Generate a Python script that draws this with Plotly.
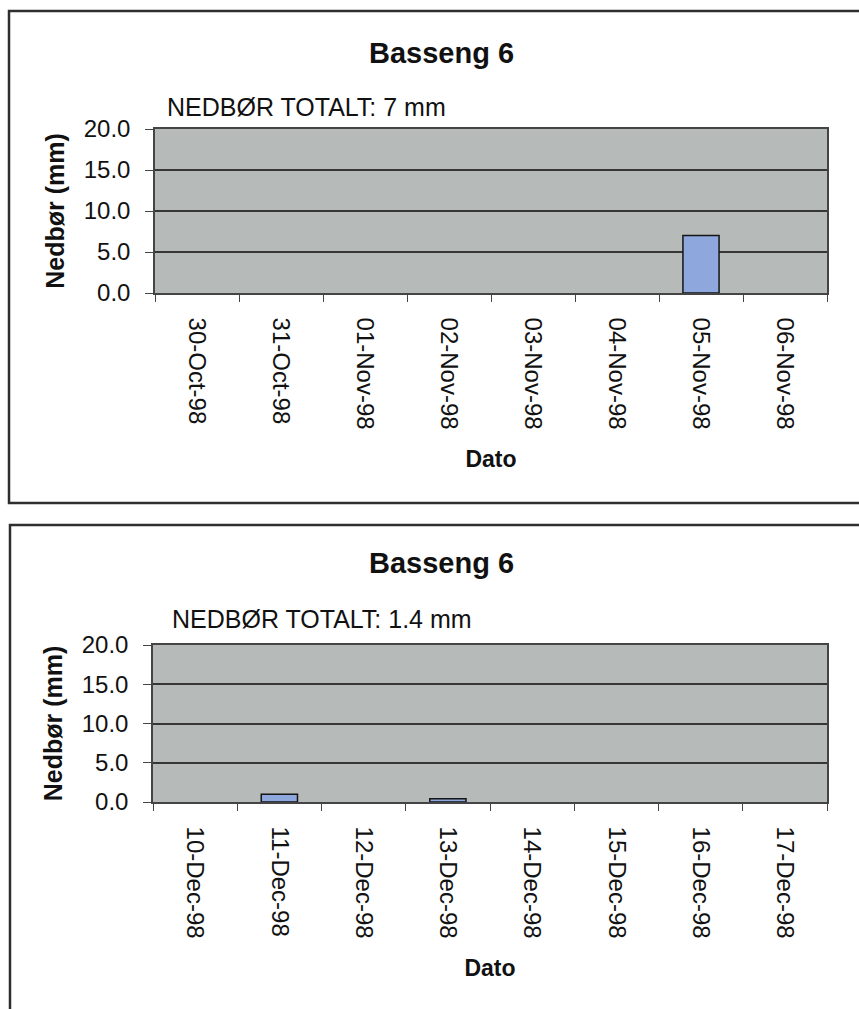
import plotly.graph_objects as go

# Daily precipitation, Basseng 6, two observation weeks in autumn 1998
dates_nov = ["30-Oct-98", "31-Oct-98", "01-Nov-98", "02-Nov-98",
             "03-Nov-98", "04-Nov-98", "05-Nov-98", "06-Nov-98"]
rain_nov = [0.0, 0.0, 0.0, 0.0, 0.0, 0.0, 7.0, 0.0]

dates_dec = ["10-Dec-98", "11-Dec-98", "12-Dec-98", "13-Dec-98",
             "14-Dec-98", "15-Dec-98", "16-Dec-98", "17-Dec-98"]
rain_dec = [0.0, 1.0, 0.0, 0.4, 0.0, 0.0, 0.0, 0.0]

title_text = "Basseng 6"
y_title = "Nedbør (mm)"
x_title = "Dato"
y_ticks = [0, 5, 10, 15, 20]

W, H = 859, 1009
FONT = "Liberation Sans, Arial, sans-serif"
PLOT_BG = "#b6bab8"
GRID = "#363636"
BAR = "#8ea7dd"


def px_x(p):
    return p / W


def px_y(p):
    return 1 - p / H


def bar_trace(dates, values, xa, ya):
    # outline only on days with rain, so dry days leave no mark
    return go.Bar(x=dates, y=values, xaxis=xa, yaxis=ya,
                  marker=dict(color=BAR,
                              line=dict(color="#151515",
                                        width=[1.5 if v > 0 else 0 for v in values])),
                  showlegend=False)


fig = go.Figure()
fig.add_trace(bar_trace(dates_nov, rain_nov, "x", "y"))
fig.add_trace(bar_trace(dates_dec, rain_dec, "x2", "y2"))


def xaxis_style(domain, anchor):
    return dict(
        domain=domain, anchor=anchor, type="category",
        tickangle=90, ticks="outside", ticklen=7, tickwidth=1.2, tickcolor="#444",
        tickson="boundaries", ticklabelstandoff=18,
        tickfont=dict(family=FONT, size=24, color="#111"),
        showline=True, linecolor="#444", linewidth=1.5, mirror=True,
        showgrid=False, zeroline=False,
        title=dict(text=x_title, standoff=22,
                   font=dict(family=FONT, size=23, color="#111", weight="bold")),
    )


def yaxis_style(domain, anchor):
    return dict(
        domain=domain, anchor=anchor, range=[0, 20],
        tickvals=y_ticks, tickformat=".1f",
        ticks="outside", ticklen=8, tickwidth=1.2, tickcolor="#444",
        ticklabelstandoff=10,
        tickfont=dict(family=FONT, size=24, color="#111"),
        showline=True, linecolor="#444", linewidth=1.5, mirror=True,
        showgrid=True, gridcolor=GRID, gridwidth=1.6, zeroline=False,
        title=dict(text=y_title, standoff=12,
                   font=dict(family=FONT, size=25, color="#111", weight="bold")),
    )


fig.update_layout(
    width=W, height=H,
    margin=dict(l=0, r=0, t=0, b=0),
    paper_bgcolor="white", plot_bgcolor=PLOT_BG,
    template="none",
    bargap=0.57,
    xaxis=xaxis_style([px_x(155), px_x(827)], "y"),
    yaxis=yaxis_style([px_y(293), px_y(129)], "x"),
    xaxis2=xaxis_style([px_x(153), px_x(827)], "y2"),
    yaxis2=yaxis_style([px_y(802), px_y(645)], "x2"),
)

# Panel frames
frame = dict(type="rect", xref="paper", yref="paper",
             line=dict(color="#2e2e2e", width=2.5), fillcolor="rgba(0,0,0,0)")
fig.add_shape(**frame, x0=px_x(9), x1=1.05, y0=px_y(503), y1=px_y(11))
fig.add_shape(**frame, x0=px_x(10), x1=1.05, y0=-0.05, y1=px_y(525))

# Panel titles and totals
for title_y, sub_x, sub_y, values in [(53, 165, 107, rain_nov), (563, 170, 619, rain_dec)]:
    fig.add_annotation(text=title_text, xref="paper", yref="paper",
                       x=px_x(441), y=px_y(title_y), xanchor="center", yanchor="middle",
                       showarrow=False,
                       font=dict(family=FONT, size=29, color="#111", weight="bold"))
    total = round(sum(values), 1)
    fig.add_annotation(text=f"NEDBØR TOTALT: {total:g} mm", xref="paper", yref="paper",
                       x=px_x(sub_x), y=px_y(sub_y), xanchor="left", yanchor="middle",
                       showarrow=False,
                       font=dict(family=FONT, size=25, color="#111"))

fig.write_html("out.html")
